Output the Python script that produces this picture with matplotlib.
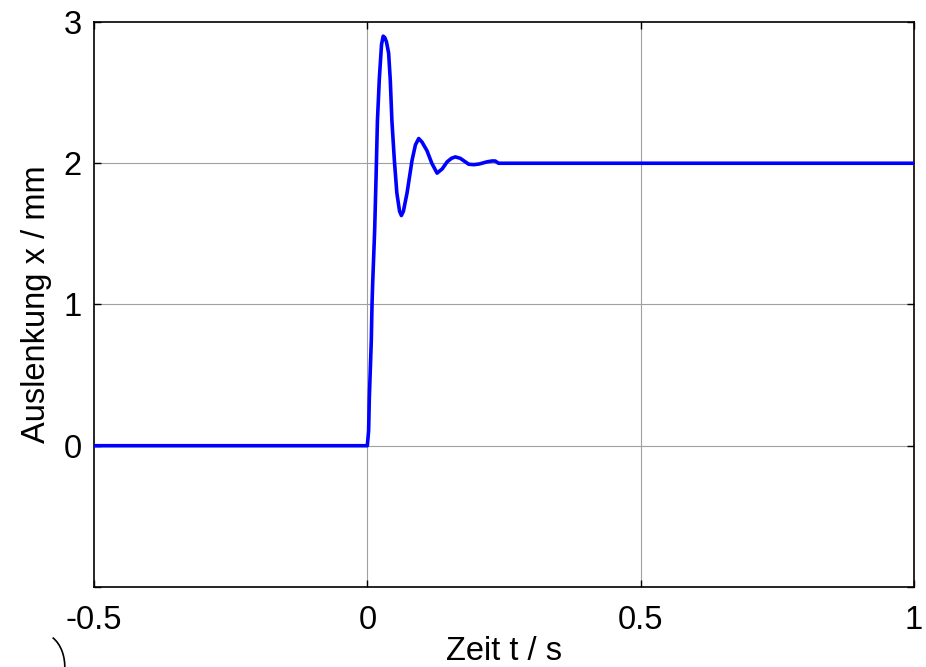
import matplotlib
matplotlib.use("Agg")
import matplotlib.pyplot as plt
from matplotlib.patches import Arc

# Step response (t in s, x in mm)
t_vals = [-0.5, 0.0, 0.0024, 0.0037, 0.0073, 0.0086, 0.0098, 0.0134, 0.016,
          0.0185, 0.022, 0.026, 0.029, 0.032, 0.035, 0.039, 0.042, 0.045,
          0.0495, 0.054, 0.059, 0.0623, 0.066, 0.0727, 0.0818, 0.088, 0.094,
          0.100, 0.109, 0.118, 0.1276, 0.137, 0.146, 0.154, 0.161, 0.170,
          0.1856, 0.195, 0.205, 0.219, 0.228, 0.234, 0.240, 1.0]
x_vals = [0.0, 0.0, 0.106, 0.34, 0.745, 1.0, 1.15, 1.52, 1.9,
          2.3, 2.6, 2.84, 2.9, 2.89, 2.86, 2.78, 2.59, 2.30,
          2.02, 1.79, 1.66, 1.63, 1.66, 1.79, 2.02, 2.13, 2.175,
          2.15, 2.09, 2.0, 1.93, 1.96, 2.01, 2.035, 2.045, 2.035,
          1.993, 1.99, 1.995, 2.01, 2.016, 2.016, 2.0, 2.0]

x_ticks = [-0.5, 0, 0.5, 1]
x_tick_labels = ["-0.5", "0", "0.5", "1"]
y_ticks = [-1, 0, 1, 2, 3]
y_tick_labels = ["", "0", "1", "2", "3"]

plt.rcParams["font.family"] = ["Liberation Sans", "DejaVu Sans"]

fig = plt.figure(figsize=(9.26, 6.67), dpi=100, facecolor="white")
ax = fig.add_axes([0.1015, 0.120, 0.8855, 0.847])

ax.plot(t_vals, x_vals, color="#0000ff", linewidth=2.6, zorder=3)

ax.set_xlim(-0.5, 1)
ax.set_ylim(-1, 3)
ax.set_xticks(x_ticks)
ax.set_xticklabels(x_tick_labels)
ax.set_yticks(y_ticks)
ax.set_yticklabels(y_tick_labels)

ax.grid(True, color="#a0a0a0", linewidth=0.8, zorder=0)
# MATLAB draws no grid line on the axes border
for gl in (ax.get_ygridlines()[:1] + ax.get_ygridlines()[-1:]
           + ax.get_xgridlines()[:1] + ax.get_xgridlines()[-1:]):
    gl.set_visible(False)

ax.tick_params(direction="in", length=5, width=1, labelsize=23.5, pad=9,
               top=True, right=True, colors="black")
ax.tick_params(axis="x", pad=13)
for spine in ax.spines.values():
    spine.set_color("black")
    spine.set_linewidth(1.2)

ax.set_xlabel("Zeit t / s", fontsize=23.5, labelpad=0)
ax.set_ylabel("Auslenkung x / mm", fontsize=23.5, labelpad=8)

# stray arc fragment in the lower left corner of the original export
fig.add_artist(Arc((0.045, 0.00), 0.05, 0.10, theta1=-10, theta2=75,
                   transform=fig.transFigure, color="black", linewidth=1.2))

fig.savefig("out.png", dpi=100, facecolor="white")
